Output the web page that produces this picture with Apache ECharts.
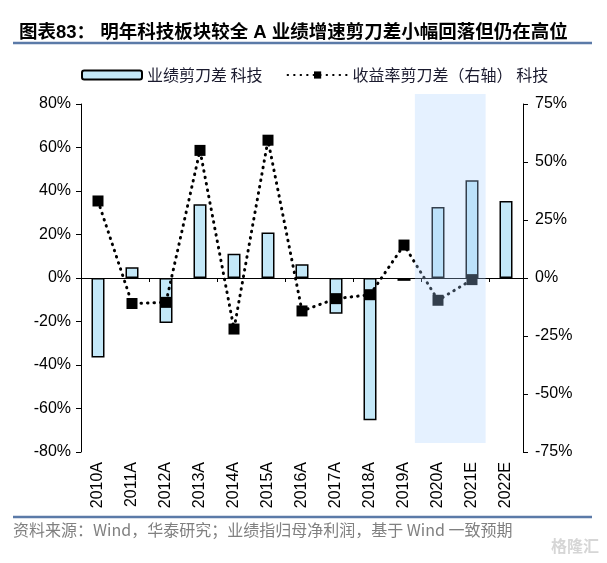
<!DOCTYPE html>
<html><head><meta charset="utf-8">
<script src="https://cdn.jsdelivr.net/npm/echarts@6/dist/echarts.min.js"></script>
<style>html,body{margin:0;padding:0;background:#fff;}#c{width:607px;height:563px;}</style>
</head><body><div id="c"></div>
<script>
var categories = ['2010A','2011A','2012A','2013A','2014A','2015A','2016A','2017A','2018A','2019A','2020A','2021E','2022E'];
var earningsGap = [-36.6, 4.9, -20.7, 33.9, 11.2, 20.9, 6.3, -16.4, -65.4, -1.3, 32.6, 44.9, 35.4];
var returnGap = [33.2, -11.0, -10.5, 55.0, -22.0, 59.4, -14.2, -8.9, -7.2, 14.2, -9.6, -0.7, null];
var leftTicks = {min: -80, max: 80, interval: 20};
var rightTicks = {min: -75, max: 75, interval: 25};
var titleText = '图表83： 明年科技板块较全 A 业绩增速剪刀差小幅回落但仍在高位';
var footText = '资料来源：Wind，华泰研究；业绩指归母净利润，基于 Wind 一致预期';
var barName = '业绩剪刀差 科技';
var lineName = '收益率剪刀差（右轴） 科技';

var FONT = "'Liberation Sans', Arial, 'Noto Sans CJK SC', sans-serif";
var chart = echarts.init(document.getElementById('c'), null, {renderer: 'canvas'});
var rule = '#5b7aa8';
var option = {
  animation: false,
  textStyle: {fontFamily: FONT},
  title: {
    text: titleText, left: 14, top: 19,
    textStyle: {fontSize: 18.5, fontWeight: 'bold', color: '#000', fontFamily: FONT}
  },
  legend: {
    left: 76, top: 62, itemGap: 24, itemWidth: 60, itemHeight: 9,
    textStyle: {fontSize: 16, color: '#1a1a2e', fontFamily: "'Noto Sans CJK SC', sans-serif"},
    data: [barName, lineName]
  },
  grid: {left: 81, right: 84, top: 104, bottom: 111, containLabel: false},
  xAxis: [{
    type: 'category', data: categories, position: 'bottom',
    axisLine: {onZero: true, lineStyle: {color: '#000', width: 1}},
    axisTick: {show: true, length: 4, lineStyle: {color: '#000'}},
    axisLabel: {show: false}
  }, {
    type: 'category', data: categories, position: 'bottom',
    axisLine: {show: false, onZero: false}, axisTick: {show: false},
    axisLabel: {rotate: 90, margin: 10, fontSize: 16, color: '#000', fontFamily: FONT}
  }],
  yAxis: [{
    type: 'value', min: leftTicks.min, max: leftTicks.max, interval: leftTicks.interval,
    axisLine: {show: true, lineStyle: {color: '#000'}},
    axisTick: {show: true, length: 5, lineStyle: {color: '#000'}},
    splitLine: {show: false},
    axisLabel: {formatter: '{value}%', fontSize: 16, color: '#000', margin: 10}
  }, {
    type: 'value', min: rightTicks.min, max: rightTicks.max, interval: rightTicks.interval,
    position: 'right',
    axisLine: {show: true, lineStyle: {color: '#000'}},
    axisTick: {show: true, length: 5, lineStyle: {color: '#000'}},
    splitLine: {show: false},
    axisLabel: {formatter: '{value}%', fontSize: 16, color: '#000', margin: 12}
  }],
  series: [{
    name: barName, type: 'bar', xAxisIndex: 0, yAxisIndex: 0, data: earningsGap,
    barWidth: 13,
    itemStyle: {color: '#c4e8f8', borderColor: '#000', borderWidth: 1.5}
  }, {
    name: lineName, type: 'line', xAxisIndex: 0, yAxisIndex: 1, data: returnGap,
    symbol: 'rect', symbolSize: 11, showSymbol: true,
    itemStyle: {color: '#000'},
    lineStyle: {color: '#000', width: 3, type: [0.5, 6], cap: 'round'},
    z: 5
  }]
};
chart.setOption(option);

var x0 = chart.convertToPixel({xAxisIndex: 0}, '2020A');
var x1 = chart.convertToPixel({xAxisIndex: 0}, '2021E');
var band = x1 - x0;
var yTop = chart.convertToPixel({yAxisIndex: 0}, leftTicks.max);
var yBot = chart.convertToPixel({yAxisIndex: 0}, leftTicks.min);
chart.setOption({
  graphic: [
    {type: 'rect', z: 100, silent: true,
     shape: {x: x0 - band * 0.68, y: yTop - 10, width: band * 2.08, height: (yBot - 9) - (yTop - 10)},
     style: {fill: 'rgba(170,210,255,0.3)'}},
    {type: 'line', shape: {x1: 13, y1: 43, x2: 592, y2: 43}, style: {stroke: rule, lineWidth: 2.5}},
    {type: 'line', shape: {x1: 13, y1: 517, x2: 592, y2: 517}, style: {stroke: rule, lineWidth: 2.5}},
    {type: 'text', left: 13, top: 522,
     style: {text: footText, fill: '#808080', fontSize: 16, fontFamily: "'Noto Sans CJK SC', sans-serif"}},
    {type: 'text', right: 8, top: 538,
     style: {text: '格隆汇', fill: '#d6d6d6', fontSize: 16, fontWeight: 'bold', fontFamily: "'Noto Sans CJK SC', sans-serif"}}
  ]
});
</script></body></html>
